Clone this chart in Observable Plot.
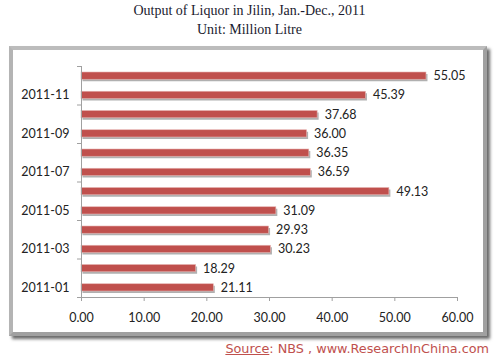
<!DOCTYPE html>
<html><head><meta charset="utf-8">
<script src="https://cdn.jsdelivr.net/npm/d3@7"></script>
<script src="https://cdn.jsdelivr.net/npm/@observablehq/plot@0.6"></script>
<style>
body{margin:0;background:#fff;width:499px;height:363px;position:relative;overflow:hidden;}
#title{position:absolutely;position:absolute;left:0;top:1px;width:499px;text-align:center;font-family:"Liberation Serif","DejaVu Serif",serif;font-size:14px;line-height:19px;color:#1a1a2e;}
#frame{position:absolute;left:9px;top:46px;width:470px;height:282px;border:4px solid #a0a0a0;border-top-color:#bcbcbc;border-left-color:#b4b4b4;box-shadow:3px 3px 3px #6a6a6a;background:#fff;}
#chart{position:absolute;left:13px;top:52px;}
#source{position:absolute;right:10px;top:341px;font-family:"DejaVu Sans",sans-serif;font-size:12.8px;color:#c0504d;}
#source u{text-decoration:underline;}
</style></head>
<body>
<div id="title">Output of Liquor in Jilin, Jan.-Dec., 2011<br>Unit: Million Litre</div>
<div id="frame"></div>
<div id="chart"></div>
<div id="source"><u>Source</u>: NBS , www.ResearchInChina.com</div>
<script>
const months = ["2011-01","2011-02","2011-03","2011-04","2011-05","2011-06","2011-07","2011-08","2011-09","2011-10","2011-11","2011-12"];
const values = [21.11, 18.29, 30.23, 29.93, 31.09, 49.13, 36.59, 36.35, 36.00, 37.68, 45.39, 55.05];
const xTicks = [0, 10, 20, 30, 40, 50, 60];

const data = months.map((m, i) => ({month: m, idx: i, value: values[i]}));
const labelPos = data.filter((d, i) => i % 2 === 0).map(d => d.idx + 0.5);
const tickPos = d3.range(0, months.length + 1, 2);

const plot = Plot.plot({
  width: 470,
  height: 280,
  marginLeft: 68,
  marginRight: 26,
  marginTop: 14,
  marginBottom: 35,
  style: {fontFamily: "Lato, 'Open Sans', sans-serif", fontSize: "12.5px", color: "#222", background: "transparent"},
  x: {domain: [0, 60]},
  y: {domain: [0, months.length]},
  marks: [
    Plot.rectX(data, {x1: 0, x2: "value", y1: "idx", y2: d => d.idx + 1, insetTop: 6.5, insetBottom: 5.5, fill: "#b0b0b0", dx: 1.5, dy: 1.5}),
    Plot.rectX(data, {x1: 0, x2: "value", y1: "idx", y2: d => d.idx + 1, insetTop: 6, insetBottom: 6, fill: "#c0504d", stroke: "#e6b3b1", strokeWidth: 0.6}),
    Plot.text(data, {x: "value", y: d => d.idx + 0.5, text: d => d.value.toFixed(2), dx: 7, textAnchor: "start", fill: "#222", fontSize: 12.5}),
    Plot.ruleX([0], {stroke: "#a0a0a0"}),
    Plot.ruleY([0], {stroke: "#a0a0a0"}),
    Plot.axisX({ticks: xTicks, tickFormat: d => d.toFixed(2), tickSize: 4, tickPadding: 12, stroke: "#a0a0a0", fill: "#222", fontSize: 12.5, label: null}),
    Plot.axisY({ticks: tickPos, tickSize: 4, tickFormat: () => "", stroke: "#a0a0a0", label: null}),
    Plot.axisY({ticks: labelPos, tickSize: 0, tickPadding: 12, tickFormat: d => months[Math.floor(d)], fill: "#222", fontSize: 12.5, label: null})
  ]
});
document.getElementById("chart").appendChild(plot);
</script>
</body></html>
